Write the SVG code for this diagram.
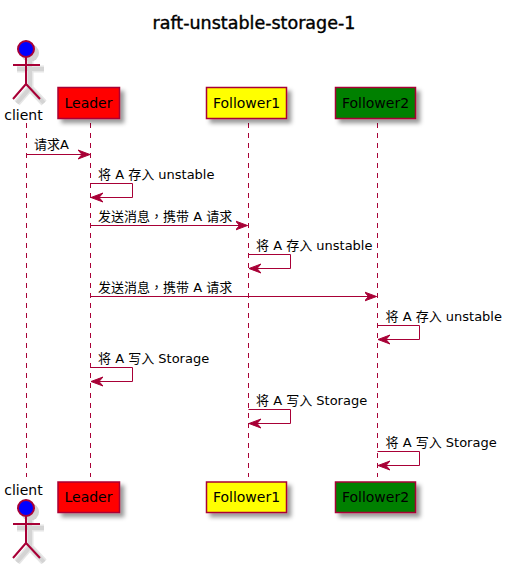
<svg xmlns="http://www.w3.org/2000/svg" width="505" height="564" viewBox="0 0 505 564">
<style>
text{font-family:"DejaVu Sans","Noto Sans CJK SC",sans-serif;fill:#000}
.title{font-size:17.500px;stroke:#000;stroke-width:.4}
.name{font-size:14px}
.msg{font-size:13px}
.tc{font-family:"Noto Sans CJK TC",sans-serif}
.box{stroke:#A80036;stroke-width:1.5}
.life{stroke:#A80036;stroke-width:1;stroke-dasharray:5 5;fill:none}
.actor{stroke:#A80036;stroke-width:2;fill:none}
.sw{stroke:#E6E6E6;stroke-width:7;fill:none}
.sn{stroke:#D4D4D4;stroke-width:4;fill:none}
.arrow{stroke:#A80036;stroke-width:1;fill:none;marker-end:url(#ah)}
</style>
<defs>
<marker id="ah" markerUnits="userSpaceOnUse" markerWidth="14" markerHeight="12" refX="12" refY="6" orient="auto"><path d="M0,1.500 L12,6 L0,10.500 L4,6 Z" fill="#A80036" stroke="#A80036" stroke-width="1"/></marker>
<filter id="sh" x="-30%" y="-30%" width="170%" height="170%"><feDropShadow dx="4" dy="4" stdDeviation="2" flood-color="#000" flood-opacity="0.4"/></filter>
<path id="sp" d="M30,61V88M17,69H44M30,88L17,103M30,88L44,103"/>
</defs>
<text class="title" x="254" y="29" text-anchor="middle">raft-unstable-storage-1</text>
<g id="lifelines">
<path class="life" d="M26.500,123V477"/><path class="life" d="M90.500,123V477"/><path class="life" d="M248.500,123V477"/><path class="life" d="M377.500,123V477"/>
</g>
<g id="client">
<circle cx="30" cy="53" r="9" fill="#D4D4D4"/><use href="#sp" class="sw"/><use href="#sp" class="sn"/>
<circle cx="30" cy="512" r="9" fill="#D4D4D4"/><use href="#sp" y="459" class="sw"/><use href="#sp" y="459" class="sn"/>
<g class="actor"><circle cx="26" cy="49" r="8" fill="#0000FF"/><path d="M26,57V84M13,65H40M26,84L13,99M26,84L40,99"/><circle cx="26" cy="508" r="8" fill="#0000FF"/><path d="M26,516V543M13,524H40M26,543L13,558M26,543L40,558"/></g>
<text class="name" x="23.500" y="120" text-anchor="middle">client</text><text class="name" x="23.500" y="495" text-anchor="middle">client</text></g>
<g id="leader"><rect class="box" x="58" y="87.500" width="61.500" height="31" fill="#FF0000" filter="url(#sh)"/><text class="name" x="88.500" y="108" text-anchor="middle">Leader</text><rect class="box" x="58" y="482" width="61.500" height="30.500" fill="#FF0000" filter="url(#sh)"/><text class="name" x="88.500" y="502" text-anchor="middle">Leader</text></g>
<g id="follower1"><rect class="box" x="206.500" y="87.500" width="80" height="31" fill="#FFFF00" filter="url(#sh)"/><text class="name" x="246.500" y="108" text-anchor="middle">Follower1</text><rect class="box" x="206.500" y="482" width="80" height="30.500" fill="#FFFF00" filter="url(#sh)"/><text class="name" x="246.500" y="502" text-anchor="middle">Follower1</text></g>
<g id="follower2"><rect class="box" x="335.500" y="87.500" width="80" height="31" fill="#008000" filter="url(#sh)"/><text class="name" x="375.500" y="108" text-anchor="middle">Follower2</text><rect class="box" x="335.500" y="482" width="80" height="30.500" fill="#008000" filter="url(#sh)"/><text class="name" x="375.500" y="502" text-anchor="middle">Follower2</text></g>
<g id="connectors">
<path class="arrow" d="M26.500,154.500H90"/>
<path class="arrow" d="M90.500,183.500H132.500V197.500H91"/>
<path class="arrow" d="M90.500,225.500H247.500"/>
<path class="arrow" d="M248.500,254.500H290.500V268.500H249"/>
<path class="arrow" d="M90.500,296.500H376.500"/>
<path class="arrow" d="M377.500,325.500H419.500V339.500H378"/>
<path class="arrow" d="M90.500,367.500H132.500V381.500H91"/>
<path class="arrow" d="M248.500,409.500H290.500V423.500H249"/>
<path class="arrow" d="M377.500,451.500H419.500V465.500H378"/>
</g>
<g id="labels">
<text class="msg" x="34" y="149">请求A</text>
<text class="msg" x="98" y="178.500">将 A 存入 unstable</text>
<text class="msg" x="98" y="220.500">发送消息<tspan class="tc">，</tspan>携带 A 请求</text>
<text class="msg" x="256" y="249.500">将 A 存入 unstable</text>
<text class="msg" x="98" y="291.500">发送消息<tspan class="tc">，</tspan>携带 A 请求</text>
<text class="msg" x="385.500" y="320.500">将 A 存入 unstable</text>
<text class="msg" x="98" y="362.500">将 A 写入 Storage</text>
<text class="msg" x="256" y="404.500">将 A 写入 Storage</text>
<text class="msg" x="385.500" y="446.500">将 A 写入 Storage</text>
</g>
</svg>
